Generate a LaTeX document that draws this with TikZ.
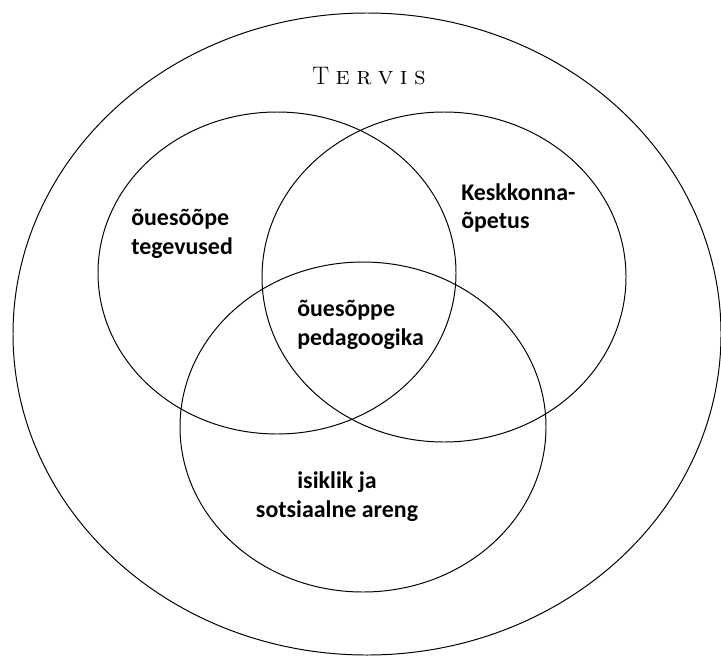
\documentclass[tikz,border=0pt]{standalone}
\usepackage{fontspec}
\newfontfamily\labelfont{Carlito}
\usetikzlibrary{positioning}

\newcommand{\spacedsc}{\kern4.6pt}

\begin{document}
\begin{tikzpicture}[x=0.025cm, y=-0.025cm,
    ring/.style={draw, line width=0.7pt},
    area/.style={font=\labelfont\bfseries\fontsize{17}{20.5}\selectfont, align=left, inner sep=0pt}]
    \useasboundingbox (0,0) rectangle (721,657);

    % the big ring and the three overlapping ones
    \draw [ring] (367,334) ellipse [x radius=354, y radius=321];
    \draw [ring] (277,273) ellipse [x radius=179, y radius=161];
    \draw [ring] (444,277) ellipse [x radius=182, y radius=165];
    \draw [ring] (363,427) ellipse [x radius=183, y radius=165];

    \node (title) at (369,76) {\fontsize{18}{20}\selectfont\addfontfeatures{FakeBold=1.6}T\spacedsc\textsc{e\spacedsc r\spacedsc v\spacedsc i\spacedsc s}};

    \node [area, anchor=west] (activities) at (131,234) {õuesõõpe\\tegevused};
    \node [area, anchor=west] (environment) at (461,208) {Keskkonna-\\õpetus};
    \node [area, anchor=west] (pedagogy) at (297,325) {õuesõppe\\pedagoogika};
    \node [area, align=center] (growth) at (337,497) {isiklik ja\\sotsiaalne areng};

\end{tikzpicture}
\end{document}
